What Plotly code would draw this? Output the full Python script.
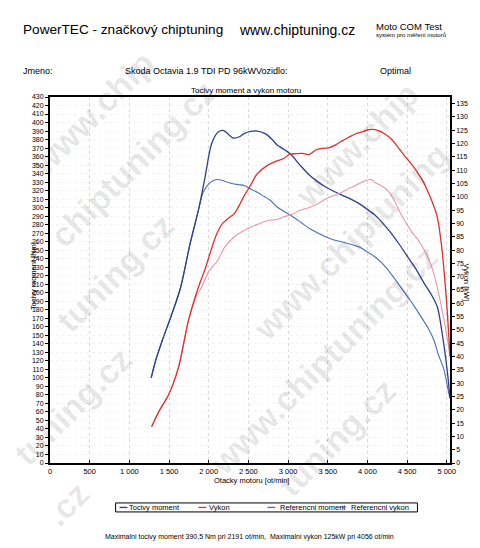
import plotly.graph_objects as go

# ---------------- data ----------------
torque_rpm = [1275, 1333, 1415, 1539, 1642, 1766, 1870, 1954, 2036, 2119, 2190, 2250, 2302, 2380, 2446,
              2530, 2611, 2711, 2790, 2859, 3024, 3150, 3271, 3380, 3478, 3580, 3684, 3790, 3890, 4000,
              4097, 4200, 4303, 4400, 4509, 4610, 4715, 4798, 4880, 4942, 4990, 5015, 5040]
torque_nm = [100, 121, 144, 176, 205, 258, 297, 336, 375, 389, 390.5, 386, 382, 383, 387,
             389.5, 390, 387, 381, 374, 363.5, 350, 338, 330, 324, 319, 314.5, 310, 305, 298,
             291, 281, 269.6, 257, 242, 228, 211, 199, 183.5, 152, 120, 100, 76]

ref_torque_rpm = [1275, 1333, 1415, 1539, 1642, 1766, 1870, 1930, 2000, 2060, 2116, 2200, 2302, 2380, 2446,
                  2530, 2611, 2700, 2776, 2859, 2940, 3065, 3171, 3271, 3380, 3478, 3580, 3684, 3790, 3890,
                  4000, 4097, 4180, 4261, 4385, 4509, 4605, 4674, 4767, 4839, 4891, 4963, 5016, 5040]
ref_torque_nm = [100, 121, 144, 176, 205, 258, 297, 318, 328, 332, 333, 331, 328, 327, 326,
                 322, 318, 313, 308.7, 301, 296, 289, 282, 275.5, 270, 265.6, 262, 259.7, 257, 254,
                 248, 242, 235, 226.5, 211, 195, 182, 172, 158, 144, 128, 110, 86, 76]

power_rpm = [1280, 1370, 1500, 1620, 1745, 1870, 1950, 2030, 2100, 2175, 2250, 2320, 2380, 2440, 2530,
             2610, 2735, 2860, 2950, 3020, 3100, 3180, 3265, 3350, 3430, 3513, 3600, 3680, 3760, 3845,
             3930, 4010, 4056, 4135, 4220, 4300, 4380, 4465, 4550, 4630, 4700, 4755, 4820, 4880, 4940,
             4985, 5010, 5040]
power_kw = [13.6, 19.2, 26, 36, 53.6, 66, 72.5, 80, 86, 90, 92, 93.6, 96.5, 100, 104.5,
            108.6, 111.7, 113.5, 114.5, 116, 116.2, 116.3, 115.9, 117.6, 118.2, 118.4, 119.5, 121, 122.3, 123.6,
            124.4, 125.2, 125.3, 124.9, 123.6, 121.7, 118.8, 115.5, 112.5, 109.2, 105.8, 102.4, 97.8, 92.4, 80,
            65, 55, 40]

ref_power_rpm = [1280, 1370, 1500, 1620, 1745, 1850, 1910, 2000, 2110, 2200, 2320, 2420, 2525, 2630, 2735,
                 2860, 2940, 3065, 3145, 3270, 3350, 3475, 3580, 3680, 3760, 3845, 3930, 4010, 4050, 4090,
                 4170, 4255, 4340, 4420, 4545, 4670, 4795, 4880, 4950, 5016, 5040]
ref_power_kw = [13.6, 19.2, 26, 36, 53.6, 63, 66, 72, 76, 81, 84.9, 87, 88.6, 89.8, 91,
                91.5, 92.4, 93.6, 94.9, 96, 97, 99.2, 100.5, 101.7, 103, 104.2, 105.5, 106.4, 106.5, 105.5,
                104.2, 102.4, 98.5, 93.6, 87.4, 82.4, 74.9, 66, 56, 45, 40]

x_ticks = [0, 500, 1000, 1500, 2000, 2500, 3000, 3500, 4000, 4500, 5000]
x_ticktext = ["0", "500", "1 000", "1 500", "2 000", "2 500", "3 000", "3 500", "4 000", "4 500", "5 000"]

series_names = ["Tocivy moment", "Vykon", "Referencni moment", "Referencni vykon"]
series_colors = ["#2f3f8a", "#e0302a", "#4a6fb8", "#ec96a4"]

# ---------------- layout helpers ----------------
W, H = 480, 548
L, R, T, B = 49.5, 455.0, 96.5, 463.0
FONT = "Liberation Sans, Arial, sans-serif"


def fx(p):
    return (p - L) / (R - L)


def fy(p):
    return (B - p) / (B - T)


fig = go.Figure()
line_kw = dict(shape="spline", smoothing=0.8)
fig.add_trace(go.Scatter(x=ref_torque_rpm, y=ref_torque_nm, mode="lines", name=series_names[2],
                         line=dict(color=series_colors[2], width=1.1, **line_kw), yaxis="y"))
fig.add_trace(go.Scatter(x=ref_power_rpm, y=ref_power_kw, mode="lines", name=series_names[3],
                         line=dict(color=series_colors[3], width=1.1, **line_kw), yaxis="y2"))
fig.add_trace(go.Scatter(x=torque_rpm, y=torque_nm, mode="lines", name=series_names[0],
                         line=dict(color=series_colors[0], width=1.3, **line_kw), yaxis="y"))
fig.add_trace(go.Scatter(x=power_rpm, y=power_kw, mode="lines", name=series_names[1],
                         line=dict(color=series_colors[1], width=1.3, **line_kw), yaxis="y2"))

ann = []


def text(s, x, y, size, xanchor="left", angle=0, color="black"):
    ann.append(dict(text=s, x=fx(x), y=fy(y), xref="paper", yref="paper", showarrow=False,
                    xanchor=xanchor, yanchor="middle", textangle=angle,
                    font=dict(family=FONT, size=size, color=color)))


# ---------------- watermark (split in pieces, only pieces fully on the page) ----------------
WM_SIZE = 34
wm_pieces = [("www.", -109.6, 88.8), ("chip", -30.2, 69.9), ("tuning", 56.7, 103.9), (".cz", 131.3, 45.3)]
P1 = (102.5, 194.5)
va = (311, -103)
vb = (-43, 134)
c45 = 0.7071
for i in range(-3, 4):
    for j in range(-3, 6):
        cx = P1[0] + i * va[0] + j * vb[0]
        cy = P1[1] + i * va[1] + j * vb[1]
        for piece, off, length in wm_pieces:
            px_ = cx + off * c45
            py_ = cy - off * c45
            ext = (length / 2 + WM_SIZE * 0.6) * c45 + 2
            if px_ - ext < 0 or px_ + ext > W or py_ - ext < 0 or py_ + ext > H:
                continue
            ann.append(dict(text="<b>%s</b>" % piece, x=fx(px_), y=fy(py_), xref="paper", yref="paper",
                            showarrow=False, xanchor="center", yanchor="middle", textangle=-45,
                            font=dict(family=FONT, size=WM_SIZE, color="rgba(0,0,0,0.10)")))

text("PowerTEC - značkový chiptuning", 20, 29, 13.6)
text("www.chiptuning.cz", 239, 29, 14)
text("Moto COM Test", 378, 26, 9.5)
text("systém pro měření motorů", 378, 34, 6)
text("Jmeno:", 20, 70, 9)
text("Skoda Octavia 1.9 TDI PD 96kWVozidlo:", 123, 70, 9)
text("Optimal", 382, 70, 9)
text("Tocivy moment a vykon motoru", 248.5, 89.5, 8, xanchor="center")
text("Otacky motoru [ot/min]", 254, 481, 7.5, xanchor="center")
text("Tocivy moment [Nm]", 33, 276, 7.5, xanchor="center", angle=-90)
text("Vykon [kW]", 472, 282, 7.5, xanchor="center", angle=90)
text("Maximalni tocivy moment 390,5 Nm pri 2191 ot/min,  Maximalni vykon 125kW pri 4056 ot/min",
     252, 537, 7, xanchor="center")

# manual legend
shapes = [dict(type="rect", xref="paper", yref="paper", x0=fx(116), x1=fx(422), y0=fy(512), y1=fy(503),
               line=dict(color="black", width=1), fillcolor="white")]
leg_x = [120, 200, 270, 342]
leg_tx = [128, 208.5, 281, 353]
for k in range(4):
    shapes.append(dict(type="line", xref="paper", yref="paper", x0=fx(leg_x[k]), x1=fx(leg_x[k] + 8),
                       y0=fy(507.5), y1=fy(507.5), line=dict(color=series_colors[k], width=1.3)))
    text(series_names[k], leg_tx[k], 507.5, 7.5)

fig.update_layout(
    width=W, height=H,
    margin=dict(l=L, r=W - R, t=T, b=H - B, pad=0),
    paper_bgcolor="white", plot_bgcolor="white",
    font=dict(family=FONT, size=7.5, color="black"),
    xaxis=dict(range=[0, 5040], tickvals=x_ticks, ticktext=x_ticktext, ticks="inside", ticklen=3,
               tickcolor="black", showline=True, linecolor="black", linewidth=2, mirror=True,
               showgrid=True, gridcolor="#d9d9d9", griddash="dot", gridwidth=1, zeroline=False,
               tickfont=dict(size=7.5)),
    yaxis=dict(range=[0, 430], tick0=0, dtick=10, ticks="outside", ticklen=3, tickcolor="black",
               showline=True, linecolor="black", linewidth=2, showgrid=True, gridcolor="#f1f1f1",
               griddash="dot", zeroline=False, tickfont=dict(size=7)),
    yaxis2=dict(range=[0, 137.5], tick0=0, dtick=5, overlaying="y", side="right", ticks="outside",
                ticklen=3, tickcolor="black", showline=True, linecolor="black", linewidth=1.5,
                showgrid=False, zeroline=False, tickfont=dict(size=7)),
    annotations=ann,
    shapes=shapes,
    showlegend=False,
)

fig.write_html("out.html")
